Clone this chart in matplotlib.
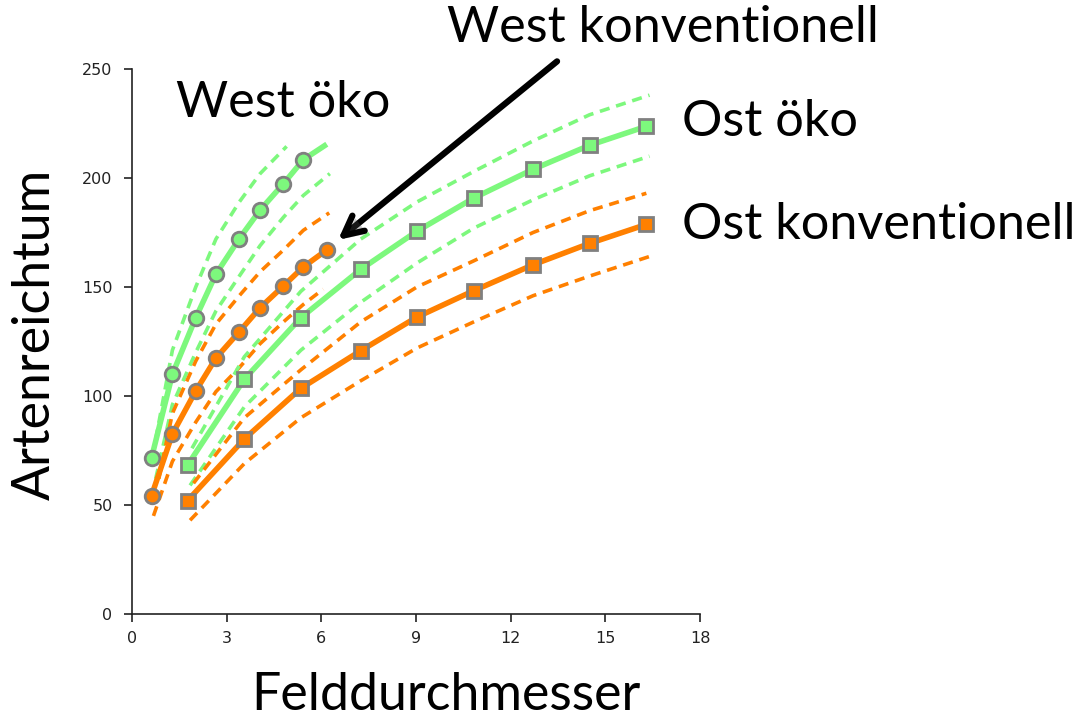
import matplotlib
matplotlib.use("Agg")
import matplotlib.pyplot as plt
import matplotlib.patheffects as pe

# Artenreichtum über Felddurchmesser, West (Kreise) und Ost (Quadrate)
w_oeko_x = [0.62, 1.28, 2.02, 2.66, 3.40, 4.06, 4.80, 5.43, 6.10]
w_oeko_y = [71.7, 110.0, 135.9, 155.9, 172.2, 185.3, 197.4, 208.4, 214.8]
w_oeko_up_x = [0.75, 1.28, 2.02, 2.66, 3.40, 4.06, 4.90]
w_oeko_up_y = [80, 121, 150, 172, 189, 202, 214.5]
w_oeko_lo_x = [0.75, 1.28, 2.02, 2.66, 3.40, 4.06, 4.80, 5.43, 6.27]
w_oeko_lo_y = [62, 96, 120, 139, 155, 169, 182, 192, 202]

w_konv_x = [0.62, 1.28, 2.02, 2.66, 3.40, 4.06, 4.80, 5.43, 6.17]
w_konv_y = [54.3, 82.6, 102.3, 117.4, 129.5, 140.5, 150.5, 159.2, 167.0]
w_konv_up_x = [0.85, 1.28, 2.02, 2.66, 3.40, 4.06, 4.80, 5.43, 6.25]
w_konv_up_y = [62, 92, 116, 133, 146, 157, 167, 176, 184]
w_konv_lo_x = [0.68, 1.28, 2.02, 2.66, 3.40, 4.06, 4.80, 5.43, 6.06]
w_konv_lo_y = [45, 70, 88, 102, 113, 124, 134, 142, 149]

o_x = [1.76, 3.56, 5.35, 7.25, 9.03, 10.83, 12.71, 14.50, 16.30]
o_oeko_y = [68.3, 107.7, 135.9, 158.1, 175.6, 190.8, 204.0, 215.0, 223.7]
o_oeko_up_x = [1.90, 3.56, 5.35, 7.25, 9.03, 10.83, 12.71, 14.50, 16.40]
o_oeko_up_y = [76, 118, 148, 172, 189, 203, 217, 229, 238]
o_oeko_lo_x = [1.84, 3.56, 5.35, 7.25, 9.03, 10.83, 12.71, 14.50, 16.40]
o_oeko_lo_y = [59, 95, 121, 143, 161, 177, 190, 201, 210]

o_konv_y = [52.0, 80.3, 103.5, 120.8, 136.2, 148.3, 160.2, 170.0, 178.7]
o_konv_up_x = [1.95, 3.56, 5.35, 7.25, 9.03, 10.83, 12.71, 14.50, 16.30]
o_konv_up_y = [60, 90, 112, 134, 150, 162, 175, 185, 193]
o_konv_lo_x = [1.84, 3.56, 5.35, 7.25, 9.03, 10.83, 12.71, 14.50, 16.40]
o_konv_lo_y = [43, 69, 90, 107, 122, 134, 146, 155, 164]

green = "#7df87d"
orange = "#ff8000"
edge = "#808080"
W, H = 1078, 721

fig = plt.figure(figsize=(W / 100, H / 100), dpi=100)
ax = fig.add_axes([132 / W, 1 - 614 / H, 568 / W, 545 / H])

dash = dict(lw=2.6, ls=(0, (2.8, 1.9)), dash_capstyle="butt", zorder=2)
ax.plot(w_oeko_up_x, w_oeko_up_y, color=green, **dash)
ax.plot(w_oeko_lo_x, w_oeko_lo_y, color=green, **dash)
ax.plot(w_konv_up_x, w_konv_up_y, color=orange, **dash)
ax.plot(w_konv_lo_x, w_konv_lo_y, color=orange, **dash)
ax.plot(o_oeko_up_x, o_oeko_up_y, color=green, **dash)
ax.plot(o_oeko_lo_x, o_oeko_lo_y, color=green, **dash)
ax.plot(o_konv_up_x, o_konv_up_y, color=orange, **dash)
ax.plot(o_konv_lo_x, o_konv_lo_y, color=orange, **dash)

solid = dict(lw=4.0, zorder=3, markeredgecolor=edge, markeredgewidth=2.0)
ax.plot(w_oeko_x, w_oeko_y, color=green, marker="o", ms=10.5,
        markevery=slice(0, 8), **solid)
ax.plot(w_konv_x, w_konv_y, color=orange, marker="o", ms=10.5, **solid)
ax.plot(o_x, o_oeko_y, color=green, marker="s", ms=10, **solid)
ax.plot(o_x, o_konv_y, color=orange, marker="s", ms=10, **solid)

ax.set_xlim(0, 18)
ax.set_ylim(0, 250)
ax.set_xticks(range(0, 19, 3))
ax.set_yticks(range(0, 251, 50))
for s in ["top", "right"]:
    ax.spines[s].set_visible(False)
for s in ["left", "bottom"]:
    ax.spines[s].set_linewidth(1.2)
    ax.spines[s].set_color("#222222")
ax.tick_params(direction="out", length=6, width=1.2, colors="#222222",
               labelsize=11.5, pad=6)
ax.tick_params(axis="y", pad=8)

ax.annotate("", xy=(6.53, 171.6), xytext=(13.47, 253.5),
            xycoords="data", textcoords="data", annotation_clip=False,
            arrowprops=dict(arrowstyle="->,head_length=1.4,head_width=0.7",
                            lw=4.5, color="black", shrinkA=0, shrinkB=0,
                            path_effects=[pe.SimplePatchShadow(offset=(2, -2), alpha=0.3),
                                          pe.Normal()]))

big = dict(fontsize=36.3, family="Lato", color="black", ha="center", va="center")
fig.text(283 / W, 1 - 103 / H, "West öko", **big)
fig.text(663 / W, 1 - 28 / H, "West konventionell", **big)
fig.text(682 / W, 1 - 122 / H, "Ost öko", **{**big, "ha": "left"})
fig.text(682 / W, 1 - 225 / H, "Ost konventionell", **{**big, "ha": "left"})
axis_lab = {**big, "fontsize": 37.4}
fig.text(446 / W, 1 - 695 / H, "Felddurchmesser", **axis_lab)
fig.text(35 / W, 1 - 334 / H, "Artenreichtum", rotation=90, **axis_lab)

fig.savefig("out.png", dpi=100)
